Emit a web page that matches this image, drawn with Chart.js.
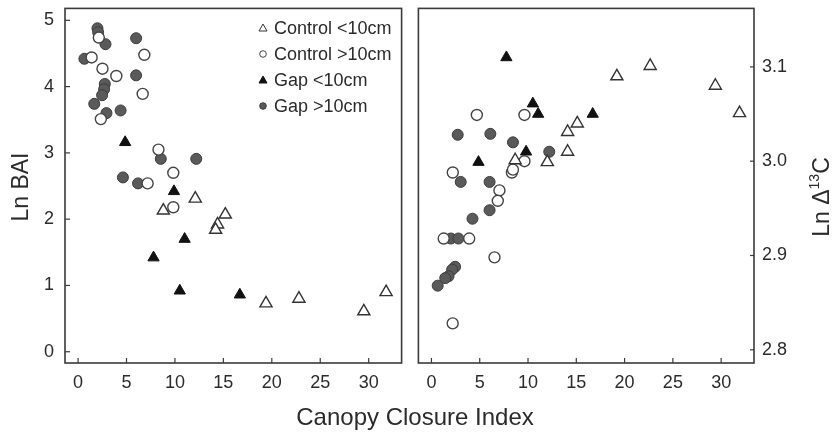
<!DOCTYPE html>
<html>
<head>
<meta charset="utf-8">
<script src="https://cdn.jsdelivr.net/npm/chart.js@4.4.1/dist/chart.umd.min.js"></script>
<style>
  body { margin: 0; background: #fff; width: 838px; height: 438px; overflow: hidden; position: relative;
         font-family: "Liberation Sans", Arial, sans-serif; color: #2b2b2b; }
  #left { position: absolute; left: 0; top: 0; }
  #right { position: absolute; left: 410px; top: 0; }
  .xtitle { position: absolute; left: 0; width: 830px; top: 403px; text-align: center; font-size: 24px; }
  .ytitle { position: absolute; width: 200px; height: 30px; line-height: 30px; text-align: center;
            font-size: 23px; transform: rotate(-90deg); white-space: nowrap; }
  .ytitle sup { font-size: 14px; vertical-align: baseline; position: relative; top: -0.75em; }
</style>
</head>
<body>
<canvas id="left" width="410" height="438"></canvas>
<canvas id="right" width="428" height="438"></canvas>
<div class="ytitle" style="left:-80px; top:172px;">Ln BAI</div>
<div class="ytitle" style="left:721px; top:182px;">Ln &Delta;<sup>13</sup>C</div>
<div class="xtitle">Canopy Closure Index</div>
<script>
const seriesNames = ['Control <10cm', 'Control >10cm', 'Gap <10cm', 'Gap >10cm'];
const xTicks = [0, 5, 10, 15, 20, 25, 30];
const baiTicks = [0, 1, 2, 3, 4, 5];
const d13cTicks = [2.8, 2.9, 3.0, 3.1];

// Ln BAI panel
const baiCtrlSmallX = [12.1, 8.8, 15.2, 14.4, 14.2, 19.4, 22.8, 29.5, 31.8];
const baiCtrlSmallY = [2.31, 2.13, 2.07, 1.92, 1.84, 0.73, 0.80, 0.61, 0.90];
const baiCtrlLargeX = [2.14, 1.4, 6.84, 2.52, 3.95, 6.67, 2.35, 8.3, 7.18, 9.83, 9.83];
const baiCtrlLargeY = [4.74, 4.44, 4.48, 4.27, 4.16, 3.89, 3.51, 3.05, 2.54, 2.70, 2.18];
const baiGapSmallX = [4.86, 9.9, 11.0, 7.79, 10.5, 16.7];
const baiGapSmallY = [3.16, 2.42, 1.70, 1.42, 0.92, 0.86];
const baiGapLargeX = [2.0, 2.07, 2.83, 5.99, 0.65, 5.99, 2.76, 2.69, 2.48, 1.67, 2.93, 4.39, 8.54, 12.2, 6.19, 4.63];
const baiGapLargeY = [4.88, 4.82, 4.64, 4.73, 4.42, 4.17, 4.04, 3.96, 3.87, 3.74, 3.60, 3.64, 2.91, 2.91, 2.54, 2.63];

// Ln delta 13C panel
const dCtrlSmallX = [15.1, 14.1, 14.1, 8.67, 12.0, 19.2, 22.65, 29.4, 31.9];
const dCtrlSmallY = [3.040, 3.031, 3.010, 3.001, 2.999, 3.090, 3.101, 3.080, 3.051];
const dCtrlLargeX = [2.21, 7.04, 6.87, 8.33, 1.27, 3.91, 6.53, 2.2, 4.7, 9.63, 9.63, 8.44];
const dCtrlLargeY = [2.988, 2.969, 2.958, 2.988, 2.918, 2.918, 2.898, 2.828, 3.049, 3.049, 3.000, 2.991];
const dGapSmallX = [7.76, 10.5, 11.05, 16.7, 9.8, 4.87];
const dGapSmallY = [3.110, 3.061, 3.050, 3.050, 3.010, 2.999];
const dGapLargeX = [3.03, 6.02, 6.02, 4.25, 2.01, 2.79, 2.45, 2.14, 1.77, 1.43, 0.65, 2.72, 6.1, 8.44, 12.2];
const dGapLargeY = [2.978, 2.978, 2.948, 2.939, 2.918, 2.918, 2.888, 2.885, 2.878, 2.876, 2.868, 3.028, 3.029, 3.020, 3.010];

const ink = '#2b2b2b';
const fontFam = '"Liberation Sans", Arial, sans-serif';
const styles = [
  { pointStyle: 'triangle', pointRadius: 7, backgroundColor: '#fff', borderColor: '#333', borderWidth: 1.4 },
  { pointStyle: 'circle', pointRadius: 5.5, backgroundColor: '#fff', borderColor: '#444', borderWidth: 1.4 },
  { pointStyle: 'triangle', pointRadius: 6.5, backgroundColor: '#111', borderColor: '#111', borderWidth: 1 },
  { pointStyle: 'circle', pointRadius: 5.5, backgroundColor: '#5a5a5a', borderColor: '#3c3c3c', borderWidth: 1 }
];

function pts(xs, ys) {
  return xs.map((x, i) => ({ x: x, y: ys[i] }));
}
function makeSets(groups) {
  return groups.map((g, i) => Object.assign({ label: seriesNames[i], data: pts(g[0], g[1]) }, styles[i]));
}
// no extra room for end labels, so the plot box sits where the layout padding puts it
function noPad(s) {
  s.paddingTop = 0; s.paddingBottom = 0; s.paddingLeft = 0; s.paddingRight = 0;
}

const framePlugin = {
  id: 'frame',
  afterDraw(chart, args, opts) {
    const ctx = chart.ctx, a = chart.chartArea;
    ctx.save();
    ctx.strokeStyle = '#3a3a3a';
    ctx.lineWidth = 1.6;
    ctx.strokeRect(a.left, a.top, a.right - a.left, a.bottom - a.top);
    ctx.lineWidth = 1.2;
    const xs = chart.scales.x, ys = chart.scales.y;
    xs.ticks.forEach(t => {
      const px = xs.getPixelForValue(t.value);
      ctx.beginPath(); ctx.moveTo(px, a.bottom); ctx.lineTo(px, a.bottom - 5); ctx.stroke();
    });
    ys.ticks.forEach(t => {
      const py = ys.getPixelForValue(t.value);
      ctx.beginPath();
      if (opts.side === 'right') { ctx.moveTo(a.right, py); ctx.lineTo(a.right - 4, py); }
      else { ctx.moveTo(a.left, py); ctx.lineTo(a.left + 5, py); }
      ctx.stroke();
    });
    ctx.restore();
  }
};

const legendPlugin = {
  id: 'insideLegend',
  afterDraw(chart, args, opts) {
    if (!opts.show) return;
    const ctx = chart.ctx;
    ctx.save();
    ctx.font = '18px ' + fontFam;
    ctx.textBaseline = 'middle';
    chart.data.datasets.forEach((ds, i) => {
      const y = 28 + i * 26, x = 263;
      ctx.strokeStyle = ds.borderColor;
      ctx.fillStyle = ds.backgroundColor;
      ctx.lineWidth = 1;
      ctx.beginPath();
      if (ds.pointStyle === 'triangle') {
        ctx.moveTo(x, y - 4); ctx.lineTo(x + 4, y + 3); ctx.lineTo(x - 4, y + 3); ctx.closePath();
      } else {
        ctx.arc(x, y, 3.3, 0, Math.PI * 2);
      }
      ctx.fill(); ctx.stroke();
      ctx.fillStyle = ink;
      ctx.fillText(ds.label, 274, y + 1);
    });
    ctx.restore();
  }
};

function xAxis() {
  return {
    type: 'linear', min: -1.35, max: 33.4,
    grid: { display: false, drawTicks: false }, border: { display: false },
    ticks: { color: ink, font: { size: 18, family: fontFam }, padding: 9 },
    afterBuildTicks: s => { s.ticks = xTicks.map(v => ({ value: v })); },
    afterFit: s => { s.height = 75; noPad(s); }
  };
}

new Chart(document.getElementById('left'), {
  type: 'scatter',
  data: { datasets: makeSets([
    [baiCtrlSmallX, baiCtrlSmallY], [baiCtrlLargeX, baiCtrlLargeY],
    [baiGapSmallX, baiGapSmallY], [baiGapLargeX, baiGapLargeY]]) },
  options: {
    responsive: false, animation: false, events: [],
    layout: { padding: { left: 0, top: 7, right: 6, bottom: 0 } },
    plugins: { legend: { display: false }, tooltip: { enabled: false },
               frame: { side: 'left' }, insideLegend: { show: true } },
    scales: {
      x: xAxis(),
      y: {
        type: 'linear', min: -0.17, max: 5.18,
        grid: { display: false, drawTicks: false }, border: { display: false },
        ticks: { color: ink, font: { size: 18, family: fontFam }, padding: 11 },
        afterBuildTicks: s => { s.ticks = baiTicks.map(v => ({ value: v })); },
        afterFit: s => { s.width = 65; noPad(s); }
      }
    }
  },
  plugins: [framePlugin, legendPlugin]
});

new Chart(document.getElementById('right'), {
  type: 'scatter',
  data: { datasets: makeSets([
    [dCtrlSmallX, dCtrlSmallY], [dCtrlLargeX, dCtrlLargeY],
    [dGapSmallX, dGapSmallY], [dGapLargeX, dGapLargeY]]) },
  options: {
    responsive: false, animation: false, events: [],
    layout: { padding: { left: 6, top: 7, right: 0, bottom: 0 } },
    plugins: { legend: { display: false }, tooltip: { enabled: false },
               frame: { side: 'right' }, insideLegend: { show: false } },
    scales: {
      x: xAxis(),
      y: {
        type: 'linear', position: 'right', min: 2.786, max: 3.162,
        grid: { display: false, drawTicks: false }, border: { display: false },
        ticks: { color: ink, font: { size: 18, family: fontFam }, padding: 8,
                 callback: v => v.toFixed(1) },
        afterBuildTicks: s => { s.ticks = d13cTicks.map(v => ({ value: v })); },
        afterFit: s => { s.width = 84; noPad(s); }
      }
    }
  },
  plugins: [framePlugin, legendPlugin]
});
</script>
</body>
</html>
